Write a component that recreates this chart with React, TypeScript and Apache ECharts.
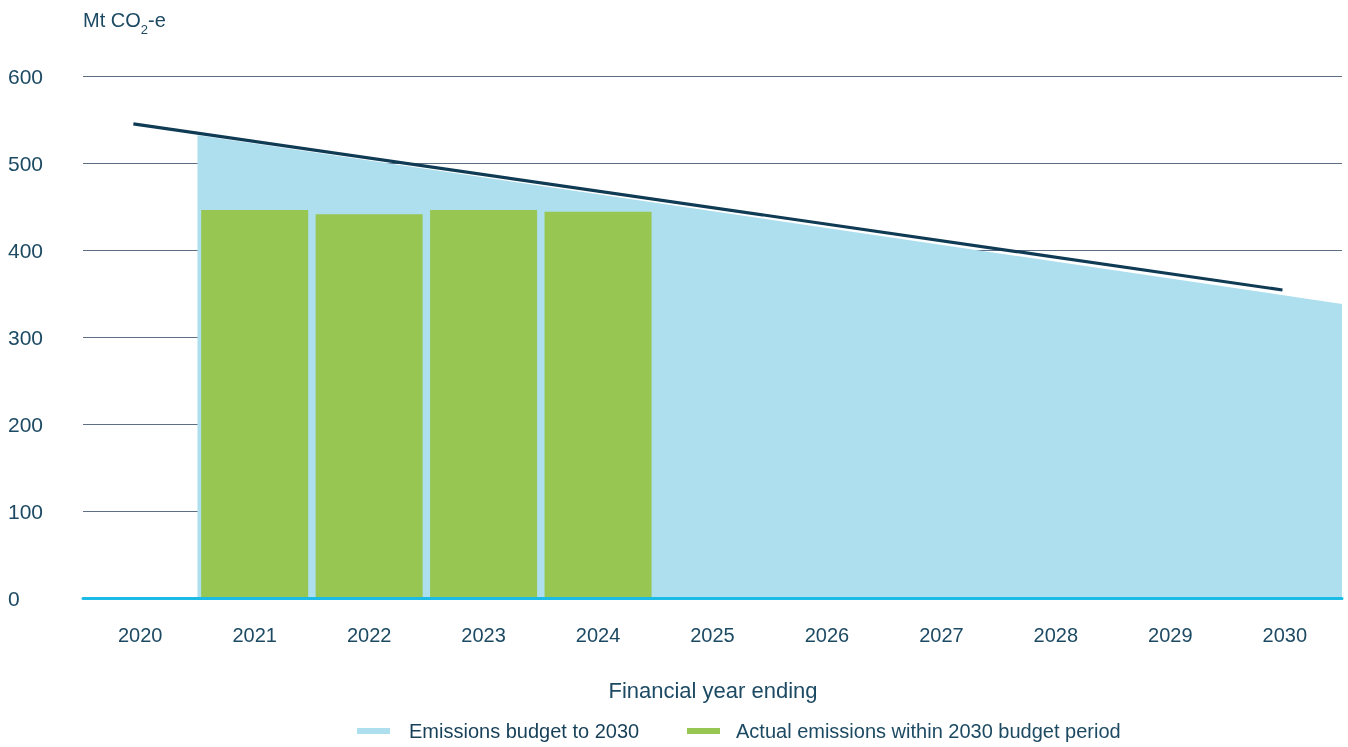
import React, { useEffect, useRef } from "react";
import * as echarts from "echarts";

const years = ["2020", "2021", "2022", "2023", "2024", "2025", "2026", "2027", "2028", "2029", "2030"];
const yTicks = { min: 0, max: 600, interval: 100 };
// Actual emissions (Mt CO2-e) per financial year
const actualEmissions: (number | null)[] = [null, 446, 441, 446, 444, null, null, null, null, null, null];
// Emissions budget area: [category position, value]
const budgetAreaX = [0.5, 10.5];
const budgetAreaValues = [532, 338];
// Trajectory line: [category position, value]
const trajectoryX = [-0.06, 9.98];
const trajectoryValues = [545, 354];

const legendItems = ["Emissions budget to 2030", "Actual emissions within 2030 budget period"];
const xAxisTitle = "Financial year ending";

const TEXT = "#1d4a63";
const FONT = "'Liberation Sans', Arial, sans-serif";

export default function App() {
  const ref = useRef<HTMLDivElement>(null);
  useEffect(() => {
    if (!ref.current) return;
    const chart = echarts.init(ref.current, undefined, { renderer: "svg" });
    chart.setOption({
      animation: false,
      textStyle: { fontFamily: FONT },
      grid: { left: 83, right: 6, top: 76, bottom: 149, containLabel: false },
      xAxis: [
        {
          type: "category",
          data: years,
          boundaryGap: true,
          z: 10,
          axisTick: { show: false },
          axisLine: { show: true, lineStyle: { color: "#1bbbe5", width: 3 } },
          axisLabel: { color: TEXT, fontSize: 20, margin: 27, fontFamily: FONT },
        },
        { type: "value", min: -0.5, max: 10.5, show: false },
      ],
      yAxis: {
        type: "value",
        min: yTicks.min,
        max: yTicks.max,
        interval: yTicks.interval,
        axisLine: { show: false },
        axisTick: { show: false },
        axisLabel: { color: TEXT, fontSize: 21, align: "left", margin: 75, fontFamily: FONT },
        splitLine: { lineStyle: { color: "#5d6e85", width: 1 } },
      },
      series: [
        {
          name: legendItems[0],
          type: "line",
          xAxisIndex: 1,
          data: budgetAreaX.map((x, i) => [x, budgetAreaValues[i]]),
          showSymbol: false,
          lineStyle: { width: 0 },
          areaStyle: { color: "#addfef", opacity: 1 },
          z: 1,
        },
        {
          name: legendItems[1],
          type: "bar",
          xAxisIndex: 0,
          data: actualEmissions,
          barWidth: 107,
          itemStyle: { color: "#97c652" },
          z: 2,
        },
        {
          name: "Trajectory",
          type: "line",
          xAxisIndex: 1,
          data: trajectoryX.map((x, i) => [x, trajectoryValues[i]]),
          showSymbol: false,
          lineStyle: { color: "#0f3b55", width: 3.2 },
          z: 3,
        },
      ],
      graphic: [
        {
          type: "text",
          left: 83,
          top: 10,
          style: {
            text: "{a|Mt CO}{b|2}{a|-e}",
            fill: TEXT,
            rich: {
              a: { fontSize: 20, fontFamily: FONT, fill: TEXT, lineHeight: 26, verticalAlign: "bottom" },
              b: { fontSize: 13, fontFamily: FONT, fill: TEXT, lineHeight: 26, verticalAlign: "bottom", padding: [0, 0, -6, 0] },
            },
          },
        },
        {
          type: "text",
          x: 713,
          y: 690,
          style: { text: xAxisTitle, fontSize: 22, fontFamily: FONT, fill: TEXT, align: "center", verticalAlign: "middle" },
        },
        { type: "rect", shape: { x: 357, y: 728, width: 33, height: 6 }, style: { fill: "#addfef" } },
        {
          type: "text",
          x: 409,
          y: 731,
          style: { text: legendItems[0], fontSize: 20, fontFamily: FONT, fill: "#163f58", align: "left", verticalAlign: "middle" },
        },
        { type: "rect", shape: { x: 687, y: 728, width: 33, height: 6 }, style: { fill: "#97c652" } },
        {
          type: "text",
          x: 736,
          y: 731,
          style: { text: legendItems[1], fontSize: 20, fontFamily: FONT, fill: TEXT, align: "left", verticalAlign: "middle" },
        },
      ],
    });
    return () => chart.dispose();
  }, []);
  return <div ref={ref} style={{ position: "fixed", left: 0, top: 0, width: 1348, height: 747 }} />;
}
